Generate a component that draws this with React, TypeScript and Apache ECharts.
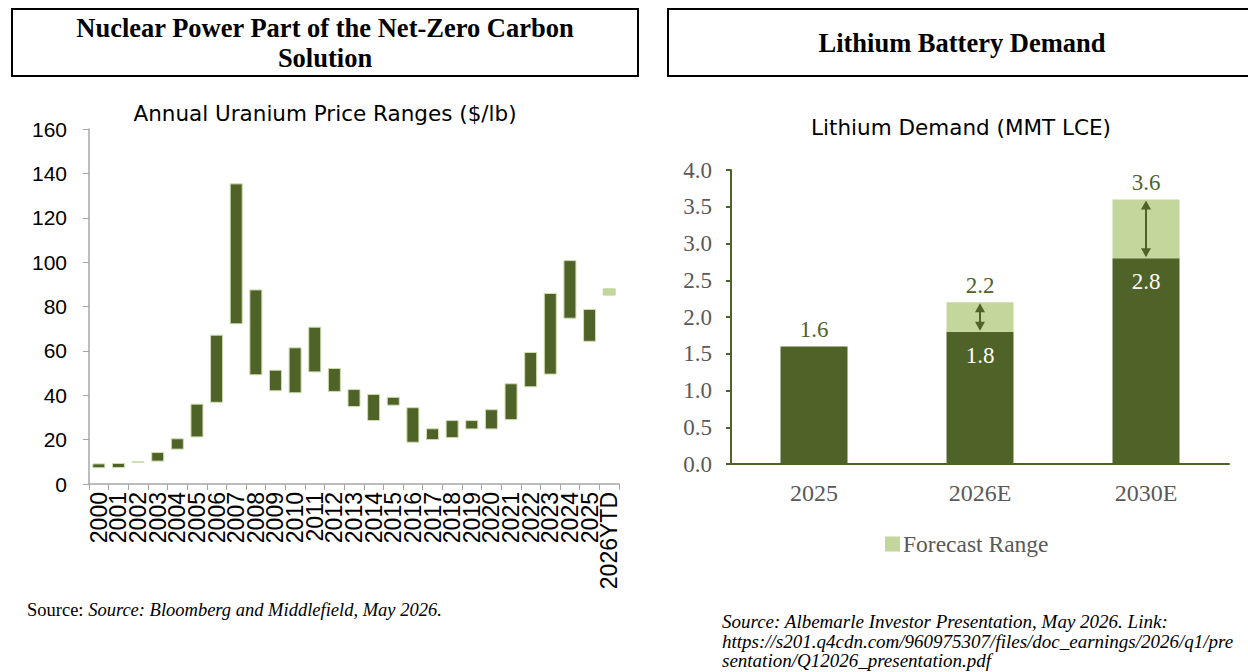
import React, { useEffect, useRef } from "react";
import * as echarts from "echarts";

const years = ["2000","2001","2002","2003","2004","2005","2006","2007","2008","2009","2010","2011","2012","2013","2014","2015","2016","2017","2018","2019","2020","2021","2022","2023","2024","2025","2026YTD"];
const uraniumLow = [7.1,7.2,9.6,10.1,15.5,21.0,36.6,72.0,49.0,41.8,40.9,50.3,41.5,34.7,28.4,35.3,18.6,19.8,20.7,24.6,24.6,28.8,43.6,49.3,74.5,64.1,84.9];
const uraniumHigh = [9.3,9.5,10.2,14.4,20.6,36.2,67.3,135.5,87.7,51.5,61.6,70.9,52.3,42.8,40.6,39.3,34.6,25.1,28.8,28.8,33.7,45.4,59.5,86.1,100.9,78.9,88.2];
const uraniumTicks = [0, 160, 20];

const lithiumCats = ["2025", "2026E", "2030E"];
const lithiumLow = [1.6, 1.8, 2.8];
const lithiumHigh = [null, 2.2, 3.6];

const DARK = "#4F6228";
const LIGHT = "#C3D69B";
const GRAY = "#595959";
const SERIF = "'Liberation Serif', 'Times New Roman', serif";
const SANS = "'DejaVu Sans', Verdana, sans-serif";
const ARIAL = "'Liberation Sans', Arial, sans-serif";

export default function App() {
  const ref = useRef<HTMLDivElement>(null);
  useEffect(() => {
    document.body.style.margin = "0";
    const chart = echarts.init(ref.current!, null, { renderer: "svg" });
    const lastIdx = years.length - 1;
    const rangeData = uraniumHigh.map((h, i) => {
      const v = +(h - uraniumLow[i]).toFixed(2);
      if (i === lastIdx) return { value: v, itemStyle: { color: LIGHT, borderColor: LIGHT } };
      return v;
    });
    const lithRange = lithiumHigh.map((h, i) => (h == null ? "-" : +(h - lithiumLow[i]).toFixed(2)));
    const arrowData = lithiumHigh
      .map((h, i) => (h == null ? null : [i, lithiumLow[i], h]))
      .filter((d) => d !== null);

    const option: any = {
      animation: false,
      title: [
        {
          text: "Annual Uranium Price Ranges ($/lb)",
          left: 320, top: 97, textAlign: "center",
          textStyle: { fontFamily: SANS, fontSize: 21.5, fontWeight: "normal", color: "#000" },
        },
        {
          text: "Lithium Demand (MMT LCE)",
          left: 956, top: 111, textAlign: "center",
          textStyle: { fontFamily: SANS, fontSize: 21.5, fontWeight: "normal", color: "#000" },
        },
      ],
      legend: {
        data: ["Forecast Range"],
        left: 880, top: 527,
        icon: "rect", itemWidth: 15, itemHeight: 15, itemGap: 4,
        textStyle: { fontFamily: SERIF, fontSize: 23.5, color: GRAY, padding: [0, 0, 0, -2] },
      },
      grid: [
        { left: 89, top: 129, width: 530, height: 355 },
        { left: 731, top: 170, width: 498, height: 294 },
      ],
      xAxis: [
        {
          gridIndex: 0, type: "category", data: years,
          axisLine: { lineStyle: { color: "#A6A6A6", width: 1.5 } },
          axisTick: { show: true, length: 6, lineStyle: { color: "#A6A6A6" } },
          axisLabel: { rotate: 90, fontFamily: ARIAL, fontSize: 23, color: "#000", margin: 8, interval: 0 },
        },
        {
          gridIndex: 1, type: "category", data: lithiumCats,
          axisLine: { lineStyle: { color: DARK, width: 2 } },
          axisTick: { show: false },
          axisLabel: { fontFamily: SERIF, fontSize: 24, color: GRAY, margin: 17 },
        },
      ],
      yAxis: [
        {
          gridIndex: 0, type: "value", min: uraniumTicks[0], max: uraniumTicks[1], interval: uraniumTicks[2],
          axisLine: { show: true, lineStyle: { color: "#A6A6A6", width: 1.5 } },
          axisTick: { show: true, length: 6, lineStyle: { color: "#A6A6A6" } },
          splitLine: { show: false },
          axisLabel: { fontFamily: ARIAL, fontSize: 21, color: "#000", margin: 22 },
        },
        {
          gridIndex: 1, type: "value", min: 0, max: 4, interval: 0.5,
          axisLine: { show: true, lineStyle: { color: DARK, width: 2 } },
          axisTick: { show: true, length: 5, inside: false, lineStyle: { color: DARK, width: 2 } },
          splitLine: { show: false },
          axisLabel: { fontFamily: SERIF, fontSize: 23, color: GRAY, margin: 19, formatter: (v: number) => v.toFixed(1) },
        },
      ],
      series: [
        {
          name: "low", type: "bar", xAxisIndex: 0, yAxisIndex: 0, stack: "u",
          data: uraniumLow, barWidth: 13, itemStyle: { color: "transparent" },
          silent: true,
        },
        {
          name: "range", type: "bar", xAxisIndex: 0, yAxisIndex: 0, stack: "u",
          data: rangeData, barWidth: 13,
          itemStyle: { color: DARK, borderColor: "#CFDDB0", borderWidth: 1 },
        },
        {
          name: "Demand", type: "bar", xAxisIndex: 1, yAxisIndex: 1, stack: "l",
          barWidth: 67,
          itemStyle: { color: DARK },
          data: lithiumLow.map((v, i) => ({
            value: v,
            label: lithiumHigh[i] == null
              ? { show: true, position: "top", color: DARK, fontFamily: SERIF, fontSize: 23, distance: 5 }
              : { show: true, position: "insideTop", color: "#fff", fontFamily: SERIF, fontSize: 23, distance: 12 },
          })),
        },
        {
          name: "Forecast Range", type: "bar", xAxisIndex: 1, yAxisIndex: 1, stack: "l",
          barWidth: 67,
          itemStyle: { color: LIGHT },
          data: lithRange,
          label: {
            show: true, position: "top", color: DARK, fontFamily: SERIF, fontSize: 23, distance: 5,
            formatter: (p: any) => {
              const h = lithiumHigh[p.dataIndex];
              return h == null ? "" : h.toFixed(1);
            },
          },
        },
        {
          name: "arrows", type: "custom", xAxisIndex: 1, yAxisIndex: 1,
          data: arrowData, encode: { x: 0, y: [1, 2] }, silent: true, z: 10,
          renderItem: (params: any, api: any) => {
            const x = api.value(0), lo = api.value(1), hi = api.value(2);
            const pLo = api.coord([x, lo]);
            const pHi = api.coord([x, hi]);
            const cx = pLo[0], top = pHi[1] + 1, bot = pLo[1] - 1;
            const ah = 9, aw = 5;
            return {
              type: "group",
              children: [
                { type: "line", shape: { x1: cx, y1: top + ah - 1, x2: cx, y2: bot - ah + 1 }, style: { stroke: DARK, lineWidth: 2 } },
                { type: "polygon", shape: { points: [[cx, top], [cx - aw, top + ah], [cx + aw, top + ah]] }, style: { fill: DARK } },
                { type: "polygon", shape: { points: [[cx, bot], [cx - aw, bot - ah], [cx + aw, bot - ah]] }, style: { fill: DARK } },
              ],
            };
          },
        },
      ],
      graphic: [
        { type: "rect", shape: { x: 12, y: 9, width: 626, height: 67 }, style: { fill: "none", stroke: "#000", lineWidth: 2 } },
        { type: "rect", shape: { x: 668, y: 9, width: 600, height: 67 }, style: { fill: "none", stroke: "#000", lineWidth: 2 } },
        {
          type: "text", x: 325, y: 43,
          style: {
            text: "Nuclear Power Part of the Net-Zero Carbon\nSolution",
            fontFamily: SERIF, fontSize: 26.5, fontWeight: "bold", fill: "#000",
            align: "center", verticalAlign: "middle", lineHeight: 30,
          },
        },
        {
          type: "text", x: 962, y: 43,
          style: {
            text: "Lithium Battery Demand",
            fontFamily: SERIF, fontSize: 26.5, fontWeight: "bold", fill: "#000",
            align: "center", verticalAlign: "middle",
          },
        },
        {
          type: "text", x: 27, y: 610,
          style: {
            text: "{n|Source: }{i|Source: Bloomberg and Middlefield, May 2026.}",
            verticalAlign: "middle",
            rich: {
              n: { fontFamily: SERIF, fontSize: 18.5, fill: "#000", fontStyle: "normal" },
              i: { fontFamily: SERIF, fontSize: 18.5, fill: "#000", fontStyle: "italic" },
            },
          },
        },
        {
          type: "text", x: 722, y: 612,
          style: {
            text: "Source: Albemarle Investor Presentation, May 2026. Link:\nhttps://s201.q4cdn.com/960975307/files/doc_earnings/2026/q1/pre\nsentation/Q12026_presentation.pdf",
            fontFamily: SERIF, fontSize: 19, fontStyle: "italic", fill: "#000", lineHeight: 19.5,
          },
        },
      ],
    };
    chart.setOption(option);
    return () => chart.dispose();
  }, []);
  return <div ref={ref} style={{ position: "absolute", left: 0, top: 0, width: 1248, height: 672 }} />;
}
